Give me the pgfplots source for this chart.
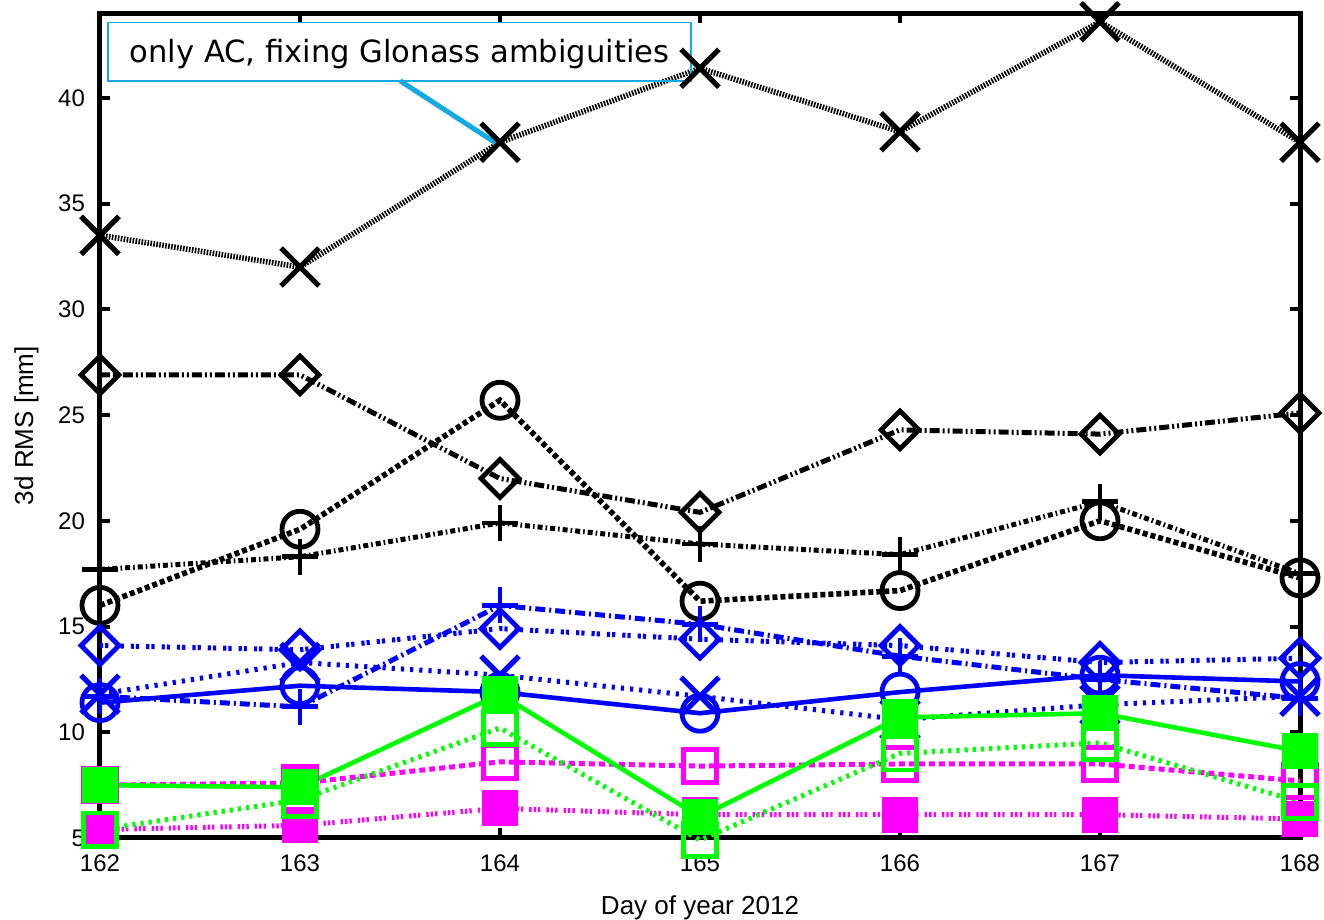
\documentclass[border=0pt]{standalone}
\usepackage{pgfplots}
\pgfplotsset{compat=1.18}
\usepackage{fontspec}
\setmainfont{Liberation Sans}
\newfontfamily\annotfont{DejaVu Sans}
\definecolor{annot}{RGB}{20,170,225}
\definecolor{mblue}{RGB}{0,0,255}
\definecolor{mgreen}{RGB}{0,255,0}
\definecolor{mmag}{RGB}{255,0,255}
\begin{document}
\begin{tikzpicture}
\path[use as bounding box] (-50pt,-41pt) rectangle (612pt,419pt);
\begin{axis}[
  at={(0,0)}, anchor=south west,
  scale only axis, width=600pt, height=412.35pt,
  xmin=162, xmax=168, ymin=5, ymax=44,
  clip=false,
  axis line style={line width=2.5pt},
  xtick={162,...,168}, ytick={5,10,...,40},
  tick align=inside, major tick length=5pt,
  every tick/.style={black, line width=2pt},
  tick label style={font=\fontsize{12}{14}\selectfont},
  /pgf/number format/assume math mode=true,
  xticklabel style={yshift=-5pt},
  yticklabel style={xshift=-4pt},
  xlabel={Day of year 2012}, ylabel={3d RMS [mm]},
  label style={font=\fontsize{13}{15}\selectfont},
  xlabel style={at={(axis description cs:0.5,-0.0922)}, anchor=base},
  ylabel style={at={(axis description cs:-0.0558,0.5)}, anchor=base},
  mdiamond/.style={mark=square, mark size=6.7pt, mark options={solid, line width=2.4pt, rotate=45}},
  mcirc/.style={mark=o, mark size=9pt, mark options={solid, line width=2.4pt}},
  mplus/.style={mark=+, mark size=9pt, mark options={solid, line width=2.4pt}},
  mx/.style={mark=x, mark size=13.4pt, mark options={solid, line width=2.6pt}},
  msq/.style={mark=square, mark size=8.3pt, mark options={solid, line width=2.4pt}},
  msqf/.style={mark=square*, mark size=8.5pt, mark options={solid, line width=1pt}},
]
% black series
\addplot[black, line width=2.8pt, dash pattern=on 0.8pt off 0.7pt, mx] coordinates {
  (162,33.5)(163,32.0)(164,37.9)(165,41.4)(166,38.4)(167,43.6)(168,37.9)};
\addplot[black, line width=2.5pt, dash pattern=on 5pt off 1.5pt on 1pt off 1.5pt on 1pt off 1.5pt, mdiamond] coordinates {
  (162,26.9)(163,26.9)(164,22.0)(165,20.4)(166,24.3)(167,24.1)(168,25.1)};
\addplot[black, line width=2.8pt, dash pattern=on 2.5pt off 1.5pt, mcirc] coordinates {
  (162,16.0)(163,19.6)(164,25.7)(165,16.2)(166,16.7)(167,20.0)(168,17.3)};
\addplot[black, line width=2.5pt, dash pattern=on 2.5pt off 1.5pt on 0.8pt off 1.5pt, mplus] coordinates {
  (162,17.7)(163,18.3)(164,19.9)(165,18.9)(166,18.4)(167,20.9)(168,17.5)};
% blue series
\addplot[mblue, line width=2.3pt, solid, mcirc] coordinates {
  (162,11.4)(163,12.2)(164,11.9)(165,10.9)(166,11.9)(167,12.7)(168,12.4)};
\addplot[mblue, line width=2.5pt, dash pattern=on 1.6pt off 1pt on 1.6pt off 3.5pt, mdiamond] coordinates {
  (162,14.1)(163,13.9)(164,14.9)(165,14.4)(166,14.1)(167,13.3)(168,13.5)};
\addplot[mblue, line width=2.5pt, dash pattern=on 5pt off 2pt on 1pt off 2pt, mplus] coordinates {
  (162,11.7)(163,11.2)(164,16.0)(165,15.1)(166,13.6)(167,12.5)(168,11.6)};
\addplot[mblue, line width=2.5pt, dash pattern=on 1.6pt off 3pt, mx] coordinates {
  (162,11.8)(163,13.3)(164,12.7)(165,11.7)(166,10.6)(167,11.3)(168,11.7)};
% magenta series
\addplot[mmag, line width=2.5pt, dash pattern=on 3pt off 2pt, msq] coordinates {
  (162,7.5)(163,7.6)(164,8.6)(165,8.4)(166,8.5)(167,8.5)(168,7.7)};
\addplot[mmag, line width=2.5pt, dash pattern=on 1.2pt off 1pt on 1.2pt off 1pt on 1.2pt off 3pt, msqf] coordinates {
  (162,5.4)(163,5.6)(164,6.4)(165,6.1)(166,6.1)(167,6.1)(168,5.9)};
% green series
\addplot[mgreen, line width=2.3pt, solid, msqf] coordinates {
  (162,7.5)(163,7.4)(164,11.8)(165,6.0)(166,10.7)(167,10.9)(168,9.1)};
\addplot[mgreen, line width=2.5pt, dash pattern=on 1.6pt off 2.5pt, msq] coordinates {
  (162,5.4)(163,6.8)(164,10.2)(165,4.9)(166,9.0)(167,9.5)(168,6.7)};
% annotation
\node[draw=annot, line width=0.9pt, minimum width=291.5pt, minimum height=29.15pt, inner sep=0pt] (box) at (axis cs:163.4975,42.19) {};
\node[font=\annotfont\fontsize{15.3}{17}\selectfont, inner sep=0pt, yshift=-1.2pt] at (box.center) {only AC, fixing Glonass ambiguities};
\draw[annot, line width=2.5pt] (axis cs:163.5,40.81) -- (axis cs:163.99,37.8);
\end{axis}
\end{tikzpicture}
\end{document}
